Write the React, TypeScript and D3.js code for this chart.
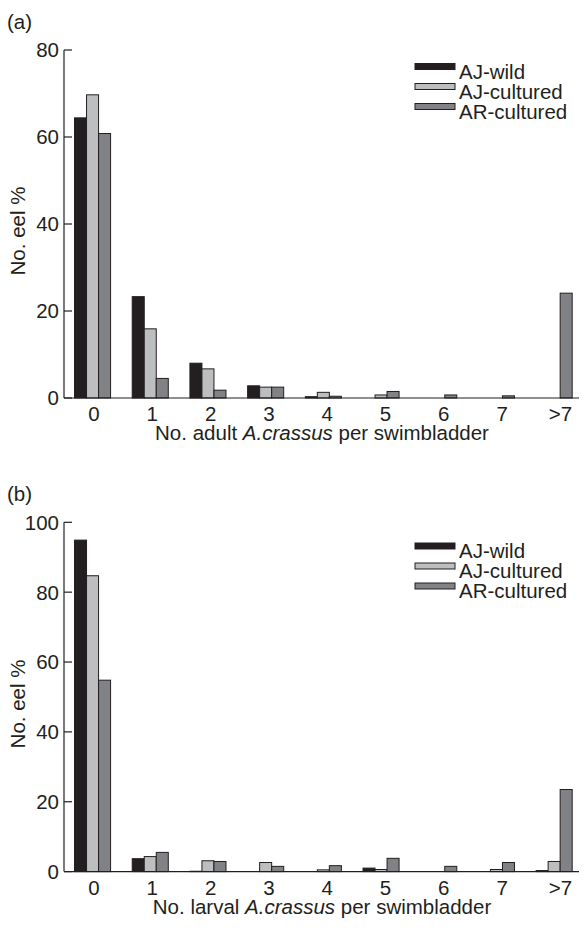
import * as d3 from "d3";

const categories = ["0", "1", "2", "3", "4", "5", "6", "7", ">7"];
const seriesNames = ["AJ-wild", "AJ-cultured", "AR-cultured"];
const seriesColors = ["#231f20", "#bcbec0", "#808285"];

// panel (a): adult A. crassus
const adultWild = [64.4, 23.3, 8.0, 2.8, 0.3, 0, 0, 0, 0];
const adultAJCultured = [69.7, 15.9, 6.7, 2.5, 1.3, 0.7, 0, 0, 0];
const adultARCultured = [60.8, 4.5, 1.8, 2.5, 0.4, 1.5, 0.7, 0.5, 24.1];

// panel (b): larval A. crassus
const larvalWild = [94.9, 3.7, 0.1, 0, 0, 1.0, 0, 0, 0.3];
const larvalAJCultured = [84.7, 4.3, 3.1, 2.6, 0.5, 0.6, 0, 0.6, 2.9];
const larvalARCultured = [54.8, 5.5, 2.9, 1.5, 1.7, 3.8, 1.5, 2.6, 23.5];

const adultTicks = [0, 20, 40, 60, 80];
const larvalTicks = [0, 20, 40, 60, 80, 100];

const FONT = "'Liberation Sans', Arial, Helvetica, sans-serif";
const FS = 20.5;

type PanelProps = {
    tag: string;
    stage: string;
    series: number[][];
    ticks: number[];
    top: number;
    bottom: number;
    legendTop: number;
};

const Panel = ({ tag, stage, series, ticks, top, bottom, legendTop }: PanelProps) => {
    const left = 64;
    const axisRight = 579;

    const x = d3
        .scaleBand<string>()
        .domain(categories)
        .range([63.7, 583])
        .paddingInner(0.375)
        .paddingOuter(0.1875);

    const xLabel = d3.scalePoint<string>().domain(categories).range([94, 560.4]);

    const xSub = d3
        .scaleBand<number>()
        .domain(series.map((_, i) => i))
        .range([0, x.bandwidth()]);

    const y = d3
        .scaleLinear()
        .domain([0, d3.max(ticks) as number])
        .range([bottom, top]);

    return (
        <g>
            <text x={7} y={top - 21} fontSize={FS} fontFamily={FONT} fill="#231f20">
                {tag}
            </text>

            {/* bars */}
            {series.map((vals, si) =>
                vals.map((v, ci) =>
                    v > 0 ? (
                        <rect
                            key={si + "-" + ci}
                            x={(x(categories[ci]) as number) + (xSub(si) as number)}
                            y={y(v)}
                            width={xSub.bandwidth()}
                            height={bottom - y(v)}
                            fill={seriesColors[si]}
                            stroke="#231f20"
                            strokeWidth={1}
                        />
                    ) : null
                )
            )}

            {/* y axis, ticks point inward */}
            <line x1={left} x2={left} y1={top} y2={bottom} stroke="#231f20" strokeWidth={1.2} />
            {ticks.map((t) => (
                <g key={t}>
                    <line x1={left} x2={left + 8} y1={y(t)} y2={y(t)} stroke="#231f20" strokeWidth={1.2} />
                    <text
                        x={left - 5}
                        y={y(t)}
                        dy="0.36em"
                        textAnchor="end"
                        fontSize={FS}
                        fontFamily={FONT}
                        fill="#231f20"
                    >
                        {t}
                    </text>
                </g>
            ))}

            {/* x axis */}
            <line x1={left} x2={axisRight} y1={bottom} y2={bottom} stroke="#231f20" strokeWidth={1.2} />
            {categories.map((c) => (
                <text
                    key={c}
                    x={xLabel(c)}
                    y={bottom + 23}
                    textAnchor="middle"
                    fontSize={FS}
                    fontFamily={FONT}
                    fill="#231f20"
                >
                    {c}
                </text>
            ))}

            <text
                x={322}
                y={bottom + 42}
                textAnchor="middle"
                fontSize={FS}
                fontFamily={FONT}
                fill="#231f20"
            >
                No. {stage} <tspan fontStyle="italic">A.crassus</tspan> per swimbladder
            </text>

            <text
                transform={`translate(25,${(top + bottom) / 2 + 7}) rotate(-90)`}
                textAnchor="middle"
                fontSize={FS}
                fontFamily={FONT}
                fill="#231f20"
            >
                No. eel %
            </text>

            {/* legend */}
            {seriesNames.map((name, i) => (
                <g key={name} transform={`translate(415,${legendTop + i * 20})`}>
                    <rect width={40} height={6} fill={seriesColors[i]} stroke="#231f20" strokeWidth={1} />
                    <text x={44} y={15} fontSize={FS} fontFamily={FONT} fill="#231f20">
                        {name}
                    </text>
                </g>
            ))}
        </g>
    );
};

export default function App() {
    return (
        <svg
            width={586}
            height={928}
            style={{ position: "absolute", left: 0, top: 0, background: "#fff" }}
        >
            <Panel
                tag="(a)"
                stage="adult"
                series={[adultWild, adultAJCultured, adultARCultured]}
                ticks={adultTicks}
                top={50}
                bottom={398}
                legendTop={63.5}
            />
            <Panel
                tag="(b)"
                stage="larval"
                series={[larvalWild, larvalAJCultured, larvalARCultured]}
                ticks={larvalTicks}
                top={522.3}
                bottom={871.6}
                legendTop={543}
            />
        </svg>
    );
}
